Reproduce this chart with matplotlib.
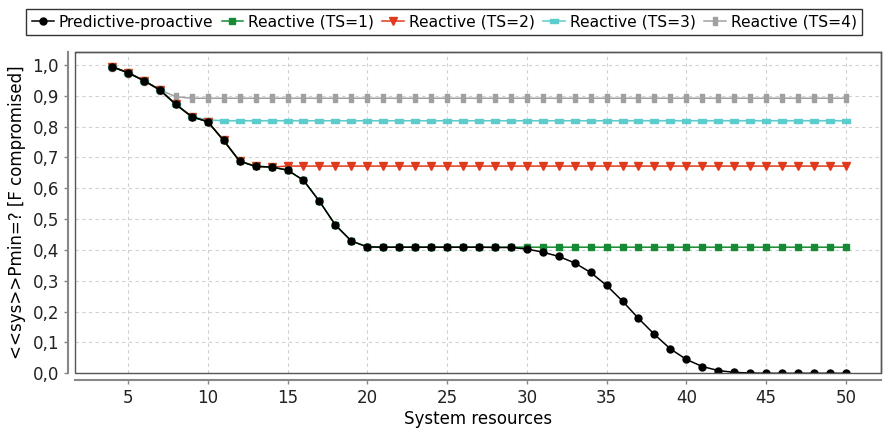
import matplotlib
matplotlib.use('Agg')
import matplotlib.pyplot as plt
import matplotlib.patches as mpatches
from matplotlib.ticker import FuncFormatter, MultipleLocator

resources = list(range(4, 51))

proactive = [0.994, 0.975, 0.949, 0.919, 0.872, 0.832, 0.816, 0.755, 0.688, 0.671,
             0.669, 0.659, 0.626, 0.558, 0.481, 0.429, 0.410, 0.409, 0.409, 0.409,
             0.409, 0.409, 0.409, 0.409, 0.408, 0.408, 0.403, 0.393, 0.379, 0.358,
             0.327, 0.285, 0.234, 0.178, 0.126, 0.079, 0.045, 0.022, 0.009, 0.003,
             0.001, 0.0, 0.0, 0.0, 0.0, 0.0, 0.0]

# reactive strategies follow the proactive curve, then stay flat
ts1 = proactive[:17] + [0.409] * 30
ts2 = proactive[:11] + [0.672] * 36
ts3 = proactive[:6] + [0.822] + [0.819] * 40
ts4 = proactive[:4] + [0.897] + [0.892] * 42

labels = ['Predictive-proactive', 'Reactive (TS=1)', 'Reactive (TS=2)',
          'Reactive (TS=3)', 'Reactive (TS=4)']

hrect = [(-1, -0.6), (1, -0.6), (1, 0.6), (-1, 0.6), (-1, -0.6)]
vrect = [(-0.65, -1), (0.65, -1), (0.65, 1), (-0.65, 1), (-0.65, -1)]

plt.rcParams['font.family'] = 'DejaVu Sans'

fig = plt.figure(figsize=(8.85, 4.33), dpi=100)
ax = fig.add_axes([75 / 885, 1 - 373.3 / 433, (881 - 75) / 885, (373.3 - 52) / 433])

ax.plot(resources, ts4, color='#a0a0a0', lw=1.1, marker=vrect, ms=5.2, zorder=2)
ax.plot(resources, ts3, color='#5ccccc', lw=1.1, marker=hrect, ms=5.8, zorder=3)
ax.plot(resources, ts2, color='#e03a1e', lw=1.1, marker='v', ms=5.5, zorder=4)
ax.plot(resources, ts1, color='#178a34', lw=1.1, marker='s', ms=4.4, zorder=5)
ax.plot(resources, proactive, color='black', lw=1.1, marker='o', ms=5, zorder=6)

ax.set_xlim(1.68, 52.2)
ax.set_ylim(0, 1.042)
ax.xaxis.set_major_locator(MultipleLocator(5))
ax.yaxis.set_major_locator(MultipleLocator(0.1))
ax.yaxis.set_major_formatter(FuncFormatter(lambda v, p: ('%.1f' % v).replace('.', ',')))
ax.tick_params(labelsize=12, length=3, width=1, color='#888888', labelcolor='#222222')

ax.grid(True, color='#d0d0d0', lw=0.8, ls=(0, (3, 3)))
ax.set_axisbelow(True)

for s in ['top', 'right']:
    ax.spines[s].set_color('#555555')
    ax.spines[s].set_linewidth(1)
for s in ['left', 'bottom']:
    ax.spines[s].set_position(('outward', 5))
    ax.spines[s].set_color('#888888')
    ax.spines[s].set_linewidth(1.5)
ax.add_patch(mpatches.Rectangle((0, 0), 1, 1, transform=ax.transAxes, fill=False,
                                edgecolor='#555555', lw=1, clip_on=False, zorder=10))

ax.set_xlabel('System resources', fontsize=12, labelpad=2)
ax.set_ylabel('<<sys>>Pmin=? [F compromised]', fontsize=12, labelpad=5)

handles = ax.get_lines()[::-1]
leg = fig.legend(handles, labels, loc='center', bbox_to_anchor=(0.502, 0.949), ncol=5,
                 fontsize=11.2, frameon=True, fancybox=False, edgecolor='black',
                 handlelength=1.4, handletextpad=0.3, columnspacing=0.55,
                 borderpad=0.35, borderaxespad=0, markerscale=1.0)
leg.get_frame().set_linewidth(1)

fig.savefig('out.png', dpi=100)
